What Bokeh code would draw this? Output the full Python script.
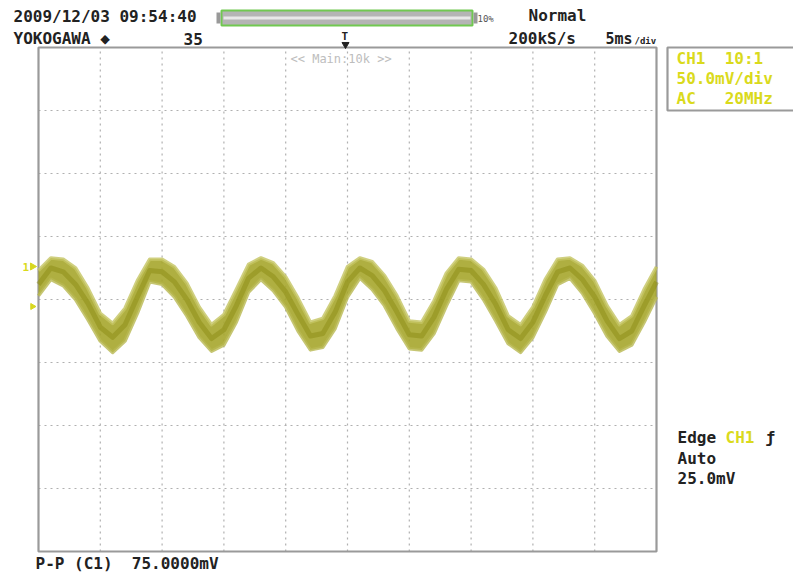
from bokeh.plotting import figure
from bokeh.models import Range1d, Label
from bokeh.embed import file_html
from bokeh.resources import INLINE

# ---- data (time in ms, 5 ms/div; voltage in mV, 50 mV/div) ----
t_ms = list(range(0, 51))
trace_center = [12, 25, 22, 12, -3, -22, -30, -20, 2, 23,
                22, 14, 0, -18, -31, -24, -5, 17, 25, 18,
                6, -12, -29, -27, -10, 14, 25, 19, 7, -10,
                -28, -29, -14, 8, 24, 23, 12, -4, -24, -31,
                -18, 3, 22, 25, 16, 2, -17, -31, -25, -5, 14]
trace_upper = [23, 33, 32, 25, 9, -11, -19, -7, 15, 32,
               32, 26, 13, -6, -20, -12, 8, 28, 33, 29,
               18, 1, -18, -15, 3, 26, 33, 30, 19, 3,
               -17, -18, -1, 21, 33, 32, 24, 9, -13, -20,
               -6, 16, 32, 33, 27, 15, -5, -20, -13, 8, 26]
trace_lower = [3, 16, 11, 0, -16, -33, -42, -33, -11, 14,
               12, 2, -13, -30, -41, -36, -18, 6, 16, 7,
               -6, -25, -40, -38, -23, 2, 17, 8, -5, -23,
               -39, -40, -27, -5, 15, 14, 0, -17, -35, -42,
               -30, -10, 12, 17, 5, -11, -29, -41, -36, -18, 2]
grid_x_ms = [5, 10, 15, 20, 25, 30, 35, 40, 45]
grid_y_mv = [-150, -100, -50, 0, 50, 100, 150]
t_span = [0, 50]
v_span = [-200, 200]

# ---- layout helpers (picture pixels -> data) ----
X0W, PXMS, Y0W, PXMV = 38.0, 12.36, 299.0, 1.26
def dx(wx):
    return (wx - X0W) / PXMS
def dy(wy):
    return (Y0W - wy) / PXMV

W, H = 793, 573
p = figure(width=W, height=H, output_backend="svg", toolbar_location=None,
           x_range=Range1d(dx(0), dx(W)), y_range=Range1d(dy(H), dy(0)),
           x_axis_type=None, y_axis_type=None, min_border=0)
p.grid.visible = False
p.outline_line_color = None
p.background_fill_color = "white"
p.border_fill_color = "white"

MONO = "DejaVu Sans Mono"
NB = "\u00a0"

# grid (dotted)
p.segment(x0=grid_x_ms, y0=[v_span[0]] * len(grid_x_ms), x1=grid_x_ms, y1=[v_span[1]] * len(grid_x_ms),
          line_color="#b0b0b0", line_width=1.2, line_dash="2 4")
p.segment(x0=[t_span[0]] * len(grid_y_mv), y0=grid_y_mv, x1=[t_span[1]] * len(grid_y_mv), y1=grid_y_mv,
          line_color="#b0b0b0", line_width=1.2, line_dash="2 4")

# screen frame
p.quad(left=[t_span[0]], right=[t_span[1]], bottom=[v_span[0]], top=[v_span[1]],
       fill_color=None, line_color="#9a9a9a", line_width=2.2)

# trace
p.varea(x=t_ms, y1=trace_lower, y2=trace_upper, fill_color="#a6a62c", fill_alpha=0.9)
p.line(t_ms, trace_upper, line_color="#c4c462", line_width=3.5, line_alpha=0.8, line_join="round")
p.line(t_ms, trace_lower, line_color="#b8b850", line_width=3.5, line_alpha=0.8, line_join="round")
p.line(t_ms, trace_center, line_color="#8c8c14", line_width=5, line_alpha=0.5, line_join="round")

# right info panel box
p.quad(left=[dx(667)], right=[dx(800)], bottom=[dy(110)], top=[dy(47)],
       fill_color=None, line_color="#9a9a9a", line_width=2.2)

# header record-length bar
p.quad(left=[dx(221)], right=[dx(472)], bottom=[dy(25)], top=[dy(10)],
       fill_color="#b4b4b4", line_color="#70c850", line_width=2)
p.quad(left=[dx(223)], right=[dx(470)], bottom=[dy(19)], top=[dy(16)],
       fill_color="#e8e8e8", line_color=None)
p.quad(left=[dx(216), dx(473)], right=[dx(220), dx(477)], bottom=[dy(23), dy(23)], top=[dy(12), dy(12)],
       fill_color="#999999", line_color=None)

# trigger position marker
p.scatter([dx(345)], [dy(44)], marker="triangle", angle=3.14159, size=7, color="#222222")

# channel / trigger level markers on the left
p.scatter([dx(32)], [dy(266)], marker="triangle", angle=-1.5708, size=7, color="#d8d820")
p.scatter([dx(32)], [dy(306)], marker="triangle", angle=-1.5708, size=6, color="#d8d820")


def lab(wx, wy, text, size="16px", color="#222222", bold=True, align="left"):
    p.add_layout(Label(x=dx(wx), y=dy(wy), text=text, text_font=MONO, text_font_size=size,
                       text_color=color, text_font_style="bold" if bold else "normal",
                       text_align=align, text_baseline="middle"))

YEL = "#dada1c"
lab(13, 16, "2009/12/03" + NB + "09:54:40")
lab(13, 38, "YOKOGAWA" + NB + "\u25c6")
lab(183, 38, "35")
lab(477, 18, "10%", size="9px", bold=False, color="#555555")
lab(528, 15, "Normal")
lab(508, 38, "200kS/s")
lab(605, 38, "5ms", size="15px")
lab(634, 40, "/div", size="9px")
lab(341, 36, "T", size="11px")
lab(290, 58, "<<" + NB + "Main:10k" + NB + ">>", size="12px", bold=False, color="#bdbdbd")
lab(676, 58, "CH1" + NB * 2 + "10:1", color=YEL)
lab(676, 78, "50.0mV/div", color=YEL)
lab(676, 98, "AC" + NB * 3 + "20MHz", color=YEL)
lab(677, 437, "Edge")
lab(725, 437, "CH1", color=YEL)
lab(765, 437, "\u0192")
lab(677, 458, "Auto")
lab(677, 478, "25.0mV")
lab(35, 563, "P-P" + NB + "(C1)" + NB * 2 + "75.0000mV")
lab(22, 266, "1", size="11px", color=YEL)

open("out.html", "w").write(file_html(p, INLINE))
